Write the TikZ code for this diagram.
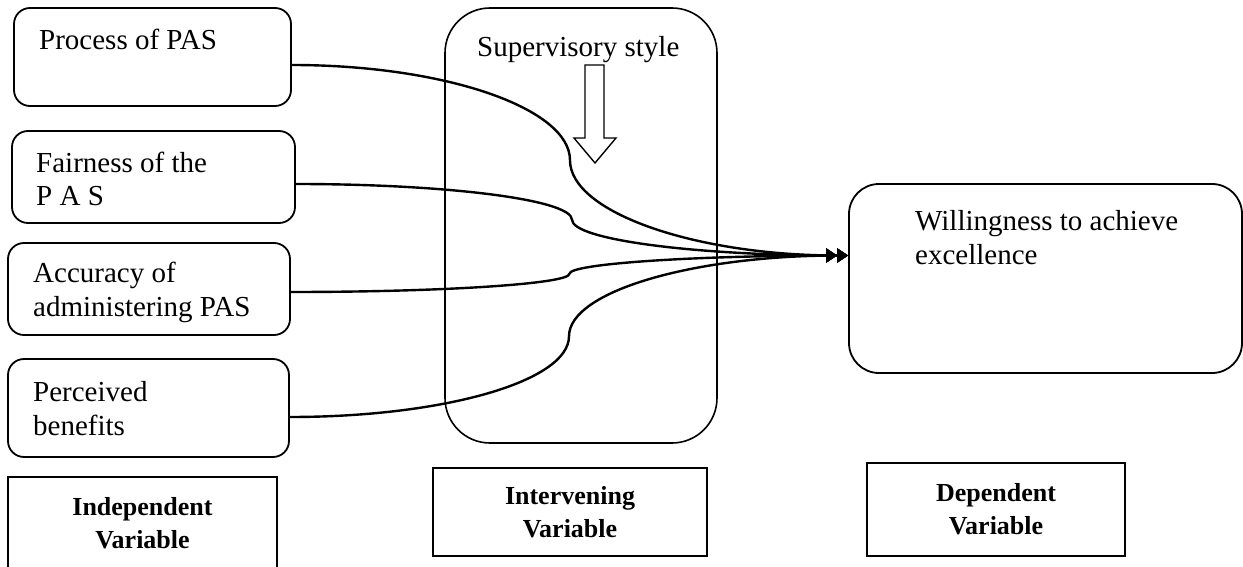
\documentclass[tikz,border=0pt]{standalone}
\usepackage{fontspec}
\setmainfont{Liberation Serif}
\usetikzlibrary{positioning,calc,arrows.meta}

\begin{document}
\begin{tikzpicture}[x=1pt,y=-1pt,
  box/.style={draw, line width=1.8pt, rounded corners=16pt, inner sep=0pt},
  txt/.style={anchor=base west, inner sep=0pt, align=left, font=\fontsize{29}{34}\selectfont},
  tag/.style={draw, line width=1.8pt, inner sep=0pt, align=center, font=\fontsize{26}{33}\selectfont\bfseries},
  link/.style={line width=2.4pt, -{Triangle[length=11pt,width=14pt]Triangle[length=11pt,width=14pt]}}]
  \useasboundingbox (0,0) rectangle (1243,567);

  % independent side
  \node[box, minimum width=277pt, minimum height=98pt] (proc) at (152.5,57) {};
  \node[box, minimum width=283pt, minimum height=92pt] (fair) at (153.5,177) {};
  \node[box, minimum width=282pt, minimum height=92pt] (accu) at (149,289) {};
  \node[box, minimum width=281pt, minimum height=98pt] (perc) at (148.5,408) {};
  % base = last line
  \node[txt] (proc-t) at (39,50) {Process of PAS};
  \node[txt] (fair-t) at (36,206) {Fairness of the\\P A S};
  \node[txt] (accu-t) at (33,316) {Accuracy of\\administering PAS};
  \node[txt] (perc-t) at (33,435) {Perceived\\benefits};

  % intervening side
  \node[box, rounded corners=45pt, line width=1.6pt, minimum width=272pt, minimum height=435pt] (superv) at (581,225.5) {};
  \node[txt] (superv-t) at (477,57) {Supervisory style};
  \draw[line width=1.4pt, fill=white] (585,65) -- (604,65) -- (604,138) -- (616,138)
    -- (595,163) -- (574,138) -- (585,138) -- cycle;

  % dependent side
  \node[box, rounded corners=30pt, minimum width=393pt, minimum height=189pt] (will) at (1045.5,278.5) {};
  \node[txt] (will-t) at (915,264) {Willingness to achieve\\excellence};

  % links
  \draw[link] ([yshift=-8pt]proc.east) .. controls +(153,0) and +(0,-52) ..
    ($([yshift=-8pt]proc.east)!.5!([yshift=23pt]will.west)$) .. controls +(0,52) and +(-153,0) .. ([yshift=23pt]will.west);
  \draw[link] ([yshift=-7pt]fair.east) .. controls +(152,0) and +(0,-20) ..
    ($([yshift=-7pt]fair.east)!.5!([yshift=23pt]will.west)$) .. controls +(0,20) and +(-152,0) .. ([yshift=23pt]will.west);
  \draw[link] ([yshift=-3pt]accu.east) .. controls +(154,0) and +(0,10) ..
    ($([yshift=-3pt]accu.east)!.5!([yshift=23pt]will.west)$) .. controls +(0,-10) and +(-154,0) .. ([yshift=23pt]will.west);
  \draw[link] ([yshift=-9pt]perc.east) .. controls +(154,0) and +(0,45) ..
    ($([yshift=-9pt]perc.east)!.5!([yshift=23pt]will.west)$) .. controls +(0,-45) and +(-154,0) .. ([yshift=23pt]will.west);

  % variable tags
  \node[tag, minimum width=269pt, minimum height=92pt] (indep) at (142.5,523) {Independent\\Variable};
  \node[tag, minimum width=274pt, minimum height=88pt] (interv) at (570,512) {Intervening\\Variable};
  \node[tag, minimum width=258pt, minimum height=93pt] (dep) at (996,509.5) {Dependent\\Variable};
\end{tikzpicture}
\end{document}
